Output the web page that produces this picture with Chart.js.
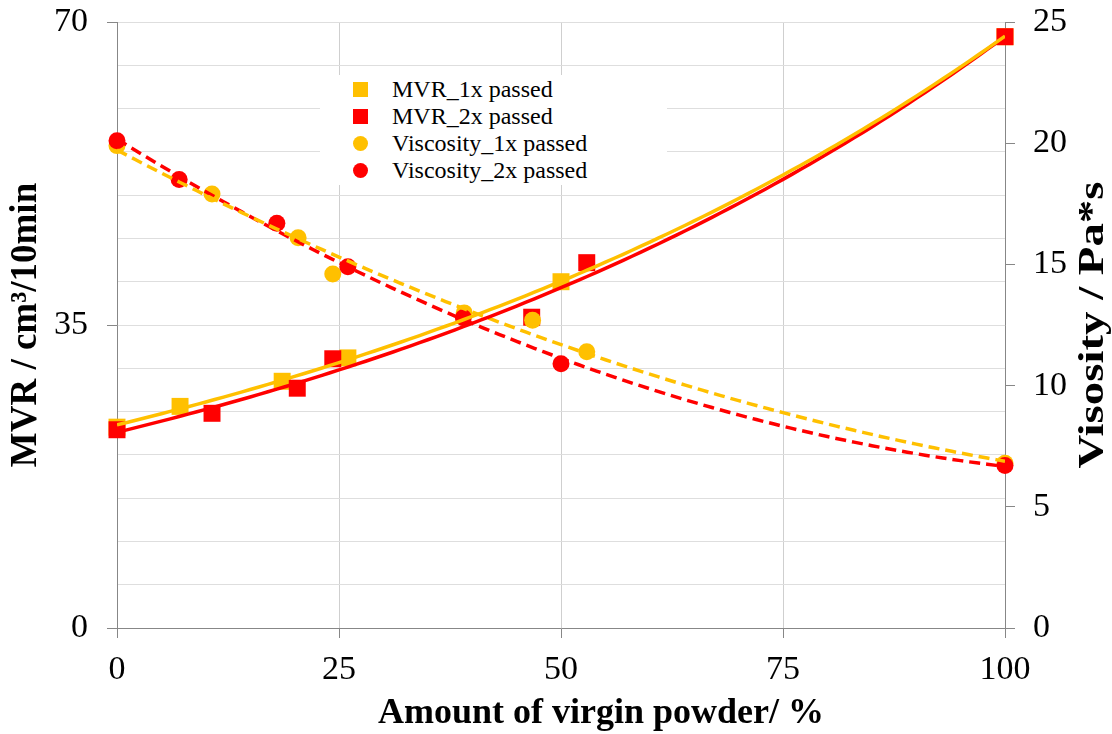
<!DOCTYPE html>
<html>
<head>
<meta charset="utf-8">
<title>MVR and viscosity vs. virgin powder</title>
<script src="https://cdn.jsdelivr.net/npm/chart.js@4.4.1/dist/chart.umd.min.js"></script>
<style>
  body { margin: 0; background: #fff; }
  .wrap { position: relative; width: 1112px; height: 734px; }
  #legend {
    position: absolute; left: 320px; top: 75px; width: 347px; height: 110px;
    background: #fff;
    font-family: 'Liberation Serif', 'Times New Roman', serif;
    font-size: 24px; color: #000;
  }
  .legend-row { position: absolute; left: 0; height: 27px; line-height: 27px; white-space: nowrap; }
  .legend-mark { position: absolute; left: 33px; top: 6px; width: 15px; height: 15px; }
  .legend-mark.circle { border-radius: 50%; }
  .legend-text { position: absolute; left: 72px; top: 0; }
</style>
</head>
<body>
<div class="wrap">
  <canvas id="mvrChart" width="1112" height="734"></canvas>
  <div id="legend"></div>
</div>
<script>
// amount of virgin powder (%) and measured MVR (cm³/10min)
const mvr1xX = [0, 7.1, 18.6, 26.0, 50.0, 100];
const mvr1xY = [23.2, 25.6, 28.5, 31.2, 40.0, 68.3];
const mvr2xX = [0, 10.7, 20.3, 24.3, 46.7, 52.9, 100];
const mvr2xY = [22.9, 24.8, 27.7, 31.1, 35.9, 42.2, 68.3];

// viscosity (Pa*s)
const visc1xX = [0, 10.7, 20.4, 24.3, 39.1, 46.8, 52.9, 100];
const visc1xY = [19.9, 17.9, 16.1, 14.6, 13.0, 12.7, 11.4, 6.8];
const visc2xX = [0, 7.0, 18.0, 26.0, 39.0, 50.0, 100];
const visc2xY = [20.1, 18.5, 16.7, 14.9, 12.8, 10.9, 6.7];

// axis ticks
const xTicks = [0, 25, 50, 75, 100];
const mvrLabelled = [0, 35, 70];

const orange = '#FFC000';
const red = '#FF0000';
const serif = "'Liberation Serif', 'Times New Roman', serif";

function toPoints(xs, ys) {
    const pts = [];
    for (let i = 0; i < xs.length; i++) pts.push({ x: xs[i], y: ys[i] });
    return pts;
}

// exponential trendline, least squares on ln(y)
function fitExp(xs, ys) {
    const n = xs.length;
    let sx = 0, sy = 0, sxx = 0, sxy = 0;
    for (let i = 0; i < n; i++) {
        const ly = Math.log(ys[i]);
        sx += xs[i]; sy += ly; sxx += xs[i] * xs[i]; sxy += xs[i] * ly;
    }
    const b = (n * sxy - sx * sy) / (n * sxx - sx * sx);
    const a = Math.exp((sy - b * sx) / n);
    return x => a * Math.exp(b * x);
}

// 2nd order polynomial trendline (normal equations)
function fitPoly2(xs, ys) {
    const s = [0, 0, 0, 0, 0], t = [0, 0, 0];
    for (let i = 0; i < xs.length; i++) {
        let p = 1;
        for (let k = 0; k < 5; k++) {
            s[k] += p;
            if (k < 3) t[k] += p * ys[i];
            p *= xs[i];
        }
    }
    const m = [
        [s[0], s[1], s[2], t[0]],
        [s[1], s[2], s[3], t[1]],
        [s[2], s[3], s[4], t[2]]
    ];
    for (let c = 0; c < 3; c++) {
        for (let r = c + 1; r < 3; r++) {
            const f = m[r][c] / m[c][c];
            for (let k = c; k < 4; k++) m[r][k] -= f * m[c][k];
        }
    }
    const co = [0, 0, 0];
    for (let r = 2; r >= 0; r--) {
        let v = m[r][3];
        for (let k = r + 1; k < 3; k++) v -= m[r][k] * co[k];
        co[r] = v / m[r][r];
    }
    return x => co[0] + co[1] * x + co[2] * x * x;
}

function trend(fn) {
    const pts = [];
    for (let x = 0; x <= 100; x++) pts.push({ x, y: fn(x) });
    return pts;
}

// right and bottom axis titles: the right one is drawn stretched along its length
const axisTitles = {
    id: 'axisTitles',
    afterDraw(chart) {
        const c = chart.ctx;
        const a = chart.chartArea;
        c.save();
        c.fillStyle = '#000';
        c.textAlign = 'center';
        c.textBaseline = 'middle';

        c.font = `bold 36px ${serif}`;
        c.fillText('Amount of virgin powder/ %', (a.left + a.right) / 2 + 40, 714);

        c.translate(1094, (a.top + a.bottom) / 2);
        c.rotate(-Math.PI / 2);
        c.scale(1.3, 1);
        c.font = `bold 36px ${serif}`;
        c.fillText('Visosity / Pa*s', 0, 0);
        c.restore();
    }
};

// fixed axis box sizes so the plot area sits where it should
function fixWidth(w) {
    return s => { s.width = w; s.paddingTop = 0; s.paddingBottom = 0; };
}

const lineBase = { showLine: true, pointRadius: 0, borderWidth: 3.5, fill: false, tension: 0 };

Chart.defaults.font.family = serif;
Chart.defaults.color = '#000';

const ctx = document.getElementById('mvrChart').getContext('2d');
new Chart(ctx, {
    type: 'scatter',
    plugins: [axisTitles],
    data: {
        datasets: [
            { ...lineBase, data: trend(fitExp(mvr1xX, mvr1xY)), yAxisID: 'y', borderColor: orange },
            { ...lineBase, data: trend(fitExp(mvr2xX, mvr2xY)), yAxisID: 'y', borderColor: red },
            { ...lineBase, data: trend(fitPoly2(visc1xX, visc1xY)), yAxisID: 'y2', borderColor: orange, borderDash: [11, 6] },
            { ...lineBase, data: trend(fitPoly2(visc2xX, visc2xY)), yAxisID: 'y2', borderColor: red, borderDash: [11, 6] },
            {
                label: 'Viscosity_2x passed', data: toPoints(visc2xX, visc2xY), yAxisID: 'y2',
                pointStyle: 'circle', pointRadius: 8.5, backgroundColor: red, borderWidth: 0, clip: false
            },
            {
                label: 'Viscosity_1x passed', data: toPoints(visc1xX, visc1xY), yAxisID: 'y2',
                pointStyle: 'circle', pointRadius: 8.5, backgroundColor: orange, borderWidth: 0, clip: false
            },
            {
                label: 'MVR_2x passed', data: toPoints(mvr2xX, mvr2xY), yAxisID: 'y',
                pointStyle: 'rect', pointRadius: 12, backgroundColor: red, borderWidth: 0, clip: false
            },
            {
                label: 'MVR_1x passed', data: toPoints(mvr1xX, mvr1xY), yAxisID: 'y',
                pointStyle: 'rect', pointRadius: 12, backgroundColor: orange, borderWidth: 0, clip: false
            }
        ]
    },
    options: {
        responsive: false,
        animation: false,
        layout: { padding: { top: 22, left: 0, right: 0, bottom: 0 } },
        plugins: {
            legend: { display: false },
            tooltip: { enabled: false }
        },
        scales: {
            x: {
                type: 'linear', min: 0, max: 100,
                afterBuildTicks: s => { s.ticks = xTicks.map(v => ({ value: v })); },
                afterFit: s => { s.height = 106; },
                ticks: { font: { size: 34 }, padding: 12, color: '#000' },
                grid: { color: '#cfcfcf', tickColor: '#878787', tickLength: 10 },
                border: { color: '#878787', width: 1 }
            },
            y: {
                position: 'left', min: 0, max: 70,
                afterFit: fixWidth(117),
                ticks: {
                    stepSize: 5, autoSkip: false, font: { size: 34 }, padding: 19, color: '#000',
                    callback: v => (mvrLabelled.includes(v) ? v : '')
                },
                grid: {
                    color: '#dedede', tickLength: 10,
                    tickColor: c => (c.tick && mvrLabelled.includes(c.tick.value) ? '#878787' : 'rgba(0,0,0,0)')
                },
                border: { color: '#878787', width: 1 },
                title: {
                    display: true, text: 'MVR / cm³/10min',
                    font: { size: 37, weight: 'bold' }, color: '#000', padding: { top: 4, bottom: 0 }
                }
            },
            y2: {
                position: 'right', min: 0, max: 25,
                afterFit: fixWidth(107),
                ticks: { stepSize: 5, font: { size: 34 }, padding: 18, color: '#000' },
                grid: { drawOnChartArea: false, tickColor: '#878787', tickLength: 10 },
                border: { color: '#878787', width: 1 }
            }
        }
    }
});

// legend drawn as HTML on top of the plot area
const legendItems = [
    ['MVR_1x passed', orange, 'square'],
    ['MVR_2x passed', red, 'square'],
    ['Viscosity_1x passed', orange, 'circle'],
    ['Viscosity_2x passed', red, 'circle']
];
const legendContainer = document.getElementById('legend');
for (let i = 0; i < legendItems.length; i++) {
    legendContainer.innerHTML += `
        <div class="legend-row" style="top: ${1 + i * 27}px">
            <span class="legend-mark ${legendItems[i][2]}" style="background-color: ${legendItems[i][1]}"></span>
            <span class="legend-text">${legendItems[i][0]}</span>
        </div>`;
}
</script>
</body>
</html>
